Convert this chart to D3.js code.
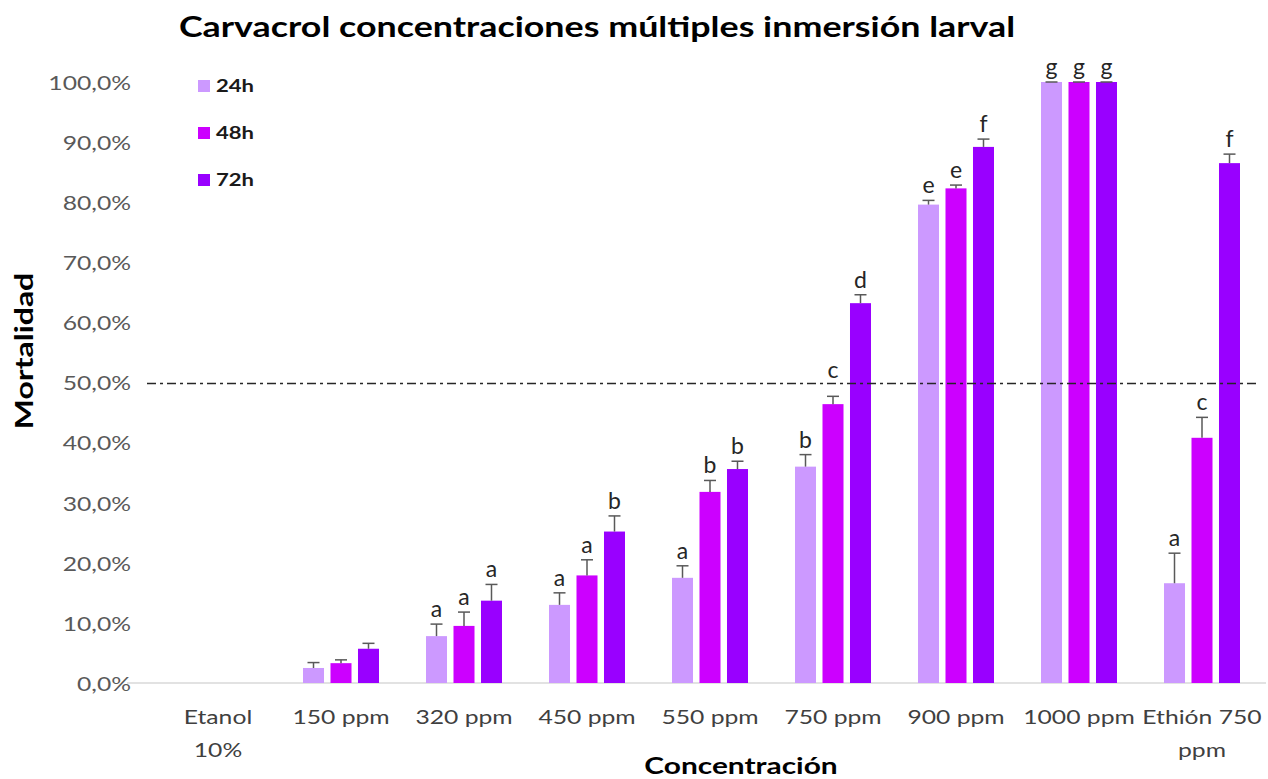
<!DOCTYPE html>
<html>
<head>
<meta charset="utf-8">
<script src="https://cdn.jsdelivr.net/npm/d3@7"></script>
<style>
  html, body { margin: 0; padding: 0; background: #fff; }
  svg { display: block; font-family: Lato, "Open Sans", sans-serif; }
</style>
</head>
<body>
<svg id="chart" width="1268" height="779"></svg>
<script>
// Concentration groups (each label split into its wrapped lines)
const categories = ["Etanol 10%", "150 ppm", "320 ppm", "450 ppm", "550 ppm", "750 ppm", "900 ppm", "1000 ppm", "Ethión 750 ppm"];
const categoryLines = [["Etanol", "10%"], ["150 ppm"], ["320 ppm"], ["450 ppm"], ["550 ppm"], ["750 ppm"], ["900 ppm"], ["1000 ppm"], ["Ethión 750", "ppm"]];

// Exposure times
const series = ["24h", "48h", "72h"];
const colors = ["#CC99FF", "#CC00FF", "#9900FF"];

// Mean larval mortality (%)
const mort24 = [0, 2.5, 7.8, 13.0, 17.5, 36.0, 79.6, 100, 16.6];
const mort48 = [0, 3.3, 9.5, 17.9, 31.8, 46.4, 82.3, 100, 40.8];
const mort72 = [0, 5.7, 13.7, 25.2, 35.6, 63.2, 89.2, 100, 86.5];

// Standard error (upper bars only)
const err24 = [null, 0.9, 2.0, 2.0, 2.0, 2.0, 0.7, 0, 5.0];
const err48 = [null, 0.55, 2.3, 2.6, 1.9, 1.3, 0.55, 0, 3.4];
const err72 = [null, 0.9, 2.7, 2.6, 1.3, 1.4, 1.3, 0, 1.5];

// Significance groups
const letters24 = ["", "", "a", "a", "a", "b", "e", "g", "a"];
const letters48 = ["", "", "a", "a", "b", "c", "e", "g", "c"];
const letters72 = ["", "", "a", "b", "b", "d", "f", "g", "f"];

// Y axis ticks and the LC50 reference level
const yTicks = [0, 10, 20, 30, 40, 50, 60, 70, 80, 90, 100];
const refLevel = 50;

const values = [mort24, mort48, mort72];
const errors = [err24, err48, err72];
const letters = [letters24, letters48, letters72];

const svg = d3.select("#chart");

const y = d3.scaleLinear().domain([0, 100]).range([683, 82]);
const x = d3.scaleBand().domain(categories).range([156.5, 1263.5]).padding(0);
const xs = d3.scaleBand().domain(series).range([-38, 38]).paddingInner(0.236);

const fmt = v => v.toFixed(1).replace(".", ",") + "%";

// text with a horizontal stretch
function stretchText(parent, txt, tx, ty, opts) {
  return parent.append("text")
    .attr("transform", `translate(${tx},${ty})${opts.rotate ? ` rotate(${opts.rotate})` : ""} scale(${opts.sx},1)`)
    .attr("text-anchor", opts.anchor || "start")
    .attr("font-size", opts.size)
    .attr("font-weight", opts.weight || "normal")
    .attr("fill", opts.fill || "#000")
    .text(txt);
}

// Title
stretchText(svg, "Carvacrol concentraciones múltiples inmersión larval", 597, 37,
  { anchor: "middle", size: 28, sx: 1.28, weight: "bold", fill: "#000" });

// Y axis tick labels
const tickSX = 1.3;
const yAxis = d3.axisLeft(y).tickValues(yTicks).tickFormat(fmt).tickSize(0).tickPadding(0);
const gy = svg.append("g").attr("transform", "translate(131,0)").call(yAxis);
gy.select(".domain").remove();
gy.selectAll("text")
  .attr("x", null).attr("dy", null)
  .attr("font-family", "Lato, sans-serif")
  .attr("font-size", 19)
  .attr("fill", "#595959")
  .attr("text-anchor", "end")
  .attr("dominant-baseline", "central")
  .attr("transform", `scale(${tickSX},1)`);

// Category axis line
svg.append("line")
  .attr("x1", 127).attr("x2", 1266)
  .attr("y1", y(0)).attr("y2", y(0))
  .attr("stroke", "#d9d9d9").attr("stroke-width", 1.5);

// Category labels
categoryLines.forEach((lines, i) => {
  const cx = x(categories[i]) + x.bandwidth() / 2;
  lines.forEach((ln, j) => {
    stretchText(svg, ln, cx, 724 + j * 33, { anchor: "middle", size: 19, sx: 1.3, fill: "#404040" });
  });
});

// Bars
const groups = svg.append("g").selectAll("g")
  .data(categories)
  .join("g")
  .attr("transform", d => `translate(${x(d) + x.bandwidth() / 2},0)`);

series.forEach((s, si) => {
  groups.append("rect")
    .attr("x", xs(s))
    .attr("width", xs.bandwidth())
    .attr("y", (d, i) => y(values[si][i]))
    .attr("height", (d, i) => y(0) - y(values[si][i]))
    .attr("fill", colors[si]);
});

// Error bars and significance letters
const refY = y(refLevel);
series.forEach((s, si) => {
  groups.each(function (d, i) {
    const e = errors[si][i];
    if (e === null) return;
    const g = d3.select(this);
    const cx = xs(s) + xs.bandwidth() / 2;
    const top = y(values[si][i] + e);
    g.append("line")
      .attr("x1", cx).attr("x2", cx)
      .attr("y1", y(values[si][i])).attr("y2", top)
      .attr("stroke", "#595959").attr("stroke-width", 1.5);
    g.append("line")
      .attr("x1", cx - 6).attr("x2", cx + 6)
      .attr("y1", top).attr("y2", top)
      .attr("stroke", "#595959").attr("stroke-width", 1.5);
    const lab = letters[si][i];
    if (lab) {
      let ly = top - 7;
      // lift a letter that would sit on the reference line
      if (ly > refY - 2 && ly - 14 < refY) ly = refY - 5;
      g.append("text")
        .attr("x", cx).attr("y", ly)
        .attr("text-anchor", "middle")
        .attr("font-size", 23)
        .attr("fill", "#262626")
        .text(lab);
    }
  });
});

// LC50 reference line
svg.append("line")
  .attr("x1", 147).attr("x2", 1258)
  .attr("y1", refY + 1).attr("y2", refY + 1)
  .attr("stroke", "#262626").attr("stroke-width", 1.5)
  .attr("stroke-dasharray", "9,4,3,4");

// Legend
const legend = svg.append("g");
series.forEach((s, si) => {
  const cy = 86 + si * 47;
  legend.append("rect")
    .attr("x", 198).attr("y", cy - 6)
    .attr("width", 12).attr("height", 12)
    .attr("fill", colors[si]);
  stretchText(legend, s, 216, cy + 6, { size: 17, sx: 1.3, weight: "bold", fill: "#1a1a1a" });
});

// Axis titles
stretchText(svg, "Concentración", 741, 774, { anchor: "middle", size: 23, sx: 1.3, weight: "bold", fill: "#000" });
stretchText(svg, "Mortalidad", 33, 351, { anchor: "middle", size: 24, sx: 1.33, weight: "bold", fill: "#000", rotate: -90 });
</script>
</body>
</html>
